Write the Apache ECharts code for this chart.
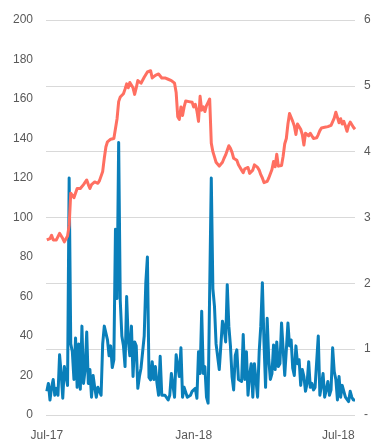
<!DOCTYPE html>
<html>
<head>
<meta charset="utf-8">
<script src="https://cdn.jsdelivr.net/npm/echarts@6/dist/echarts.min.js"></script>
<style>
  html, body { margin: 0; padding: 0; background: #ffffff; }
  #chart { width: 378px; height: 442px; }
</style>
</head>
<body>
<div id="chart"></div>
<script>
// Observation dates (every second day)
const dates = [
  '2017-07-01','2017-07-03','2017-07-05','2017-07-07','2017-07-09','2017-07-11','2017-07-13','2017-07-15','2017-07-17','2017-07-19','2017-07-21','2017-07-23','2017-07-25','2017-07-27','2017-07-29','2017-07-31',
  '2017-08-02','2017-08-04','2017-08-06','2017-08-08','2017-08-10','2017-08-12','2017-08-14','2017-08-16','2017-08-18','2017-08-20','2017-08-22','2017-08-24','2017-08-26','2017-08-28','2017-08-30',
  '2017-09-01','2017-09-03','2017-09-05','2017-09-07','2017-09-09','2017-09-11','2017-09-13','2017-09-15','2017-09-17','2017-09-19','2017-09-21','2017-09-23','2017-09-25','2017-09-27','2017-09-29',
  '2017-10-01','2017-10-03','2017-10-05','2017-10-07','2017-10-09','2017-10-11','2017-10-13','2017-10-15','2017-10-17','2017-10-19','2017-10-21','2017-10-23','2017-10-25','2017-10-27','2017-10-29','2017-10-31',
  '2017-11-02','2017-11-04','2017-11-06','2017-11-08','2017-11-10','2017-11-12','2017-11-14','2017-11-16','2017-11-18','2017-11-20','2017-11-22','2017-11-24','2017-11-26','2017-11-28','2017-11-30',
  '2017-12-02','2017-12-04','2017-12-06','2017-12-08','2017-12-10','2017-12-12','2017-12-14','2017-12-16','2017-12-18','2017-12-20','2017-12-22','2017-12-24','2017-12-26','2017-12-28','2017-12-30',
  '2018-01-01','2018-01-03','2018-01-05','2018-01-07','2018-01-09','2018-01-11','2018-01-13','2018-01-15','2018-01-17','2018-01-19','2018-01-21','2018-01-23','2018-01-25','2018-01-27','2018-01-29','2018-01-31',
  '2018-02-02','2018-02-04','2018-02-06','2018-02-08','2018-02-10','2018-02-12','2018-02-14','2018-02-16','2018-02-18','2018-02-20','2018-02-22','2018-02-24','2018-02-26','2018-02-28',
  '2018-03-02','2018-03-04','2018-03-06','2018-03-08','2018-03-10','2018-03-12','2018-03-14','2018-03-16','2018-03-18','2018-03-20','2018-03-22','2018-03-24','2018-03-26','2018-03-28','2018-03-30',
  '2018-04-01','2018-04-03','2018-04-05','2018-04-07','2018-04-09','2018-04-11','2018-04-13','2018-04-15','2018-04-17','2018-04-19','2018-04-21','2018-04-23','2018-04-25','2018-04-27','2018-04-29',
  '2018-05-01','2018-05-03','2018-05-05','2018-05-07','2018-05-09','2018-05-11','2018-05-13','2018-05-15','2018-05-17','2018-05-19','2018-05-21','2018-05-23','2018-05-25','2018-05-27','2018-05-29','2018-05-31',
  '2018-06-02','2018-06-04','2018-06-06','2018-06-08','2018-06-10','2018-06-12','2018-06-14','2018-06-16','2018-06-18','2018-06-20','2018-06-22','2018-06-24','2018-06-26','2018-06-28','2018-06-30',
  '2018-07-02','2018-07-04','2018-07-06','2018-07-08','2018-07-10','2018-07-12','2018-07-14','2018-07-16','2018-07-18','2018-07-20','2018-07-22'
];

// Blue series, left axis (0–200)
const volume = [
  12,16,7.6,14,18,10,13.5,10,30.5,21,8.5,24.5,24,15,120,36,
  32,18,39,14,36,13,45,16,23,42,16,23,9,20,14,
  9,14,13,10,36,45,45,38,30,35,24,28,94,59,138,
  58,40,35,24.5,60,38,30,45,19.5,37,35,13.5,19.5,23.7,24.5,40,
  67,80,19,17.8,27,18,24.5,16,10,29.7,10,9,10,9,7.6,
  10,21,21,9,30.5,30,19.5,34,9,14,13.5,9,9,10,12,
  12,13.5,8.5,32,21,52.5,21,24.5,9,6,5,120,64,55,36,35,
  23,23.7,47.5,44,37,66,45,35,19.5,12.7,30,33,18,18.6,
  17,40.7,18,32,10,20,26,9,26,25.4,9,32,45,67,37,
  14,49,28,18,21,35.5,23,37,24.5,26,46.6,47.5,20,33,46.6,
  35,38,23.7,20,35,26,28,15,23,19.5,12,16,27,14,16,12.7,
  14,13.5,40,10,15,21,9,12.7,17,10,12.7,34,22,18,7.6,
  19.5,9,15,12,9,10,6.8,12,9,7.6,7.6
];

// Red series, right axis (0–6)
const price = [
  2.66,2.63,2.68,2.73,2.66,2.68,2.66,2.63,2.76,2.73,2.68,2.63,2.66,2.72,2.88,3.37,
  3.38,3.30,3.30,3.44,3.42,3.44,3.47,3.50,3.52,3.57,3.50,3.44,3.50,3.52,3.54,
  3.57,3.52,3.56,3.59,3.70,3.90,4.07,4.15,4.17,4.19,4.20,4.20,4.18,4.50,4.76,
  4.83,4.85,4.88,4.95,5.03,4.97,5.05,5.08,4.97,4.87,4.97,5.08,5.11,5.04,5.06,5.13,
  5.16,5.21,5.24,5.23,5.12,5.12,5.16,5.18,5.18,5.15,5.12,5.11,5.12,5.10,5.10,
  5.13,5.08,5.09,5.04,4.90,4.53,4.49,4.68,4.55,4.68,4.77,4.78,4.76,4.73,4.75,
  4.68,4.72,4.62,4.46,4.84,4.63,4.68,4.61,4.70,4.75,4.80,4.13,4.00,3.92,3.84,3.81,
  3.78,3.76,3.84,3.90,3.95,4.02,4.09,4.05,3.99,3.90,3.90,3.87,3.80,3.77,
  3.72,3.68,3.74,3.72,3.76,3.67,3.69,3.72,3.80,3.79,3.76,3.72,3.65,3.60,3.53,
  3.56,3.55,3.60,3.62,3.73,3.85,3.77,3.96,3.78,3.75,3.79,3.93,4.12,4.20,4.42,
  4.58,4.55,4.46,4.39,4.26,4.42,4.44,4.34,4.26,4.10,4.28,4.28,4.24,4.28,4.26,4.20,
  4.21,4.21,4.26,4.32,4.36,4.38,4.37,4.39,4.38,4.41,4.40,4.39,4.51,4.60,4.52,
  4.44,4.50,4.42,4.46,4.39,4.31,4.40,4.45,4.42,4.37,4.34
];

// Date axis labels
const xTickDates = ['2017-07-01', '2018-01-01', '2018-07-01'];
const xTickLabels = ['Jul-17', 'Jan-18', 'Jul-18'];

const toTime = s => { const p = s.split('-'); return new Date(+p[0], +p[1] - 1, +p[2]).getTime(); };
const xTickTimes = xTickDates.map(toTime);

const labelColor = '#595959';
const labelFont = 'Liberation Sans';

const chart = echarts.init(document.getElementById('chart'), null, { renderer: 'canvas' });
chart.setOption({
  animation: false,
  backgroundColor: '#ffffff',
  grid: { left: 46, right: 23, top: 20, bottom: 27, containLabel: false },
  xAxis: {
    type: 'value',
    min: toTime('2017-06-30'),
    max: toTime('2018-07-22'),
    axisLine: { show: false },
    axisTick: { show: false },
    splitLine: { show: false },
    axisLabel: {
      customValues: xTickTimes,
      color: labelColor,
      fontFamily: labelFont,
      fontSize: 12,
      margin: 15,
      hideOverlap: false,
      showMinLabel: true,
      showMaxLabel: true,
      formatter: function (v) {
        let best = 0, bestD = Infinity;
        xTickTimes.forEach((t, i) => { const d = Math.abs(t - v); if (d < bestD) { bestD = d; best = i; } });
        return xTickLabels[best];
      }
    }
  },
  yAxis: [
    {
      type: 'value', position: 'left', min: 0, max: 200, interval: 20,
      axisLine: { show: false }, axisTick: { show: false }, splitLine: { show: false },
      axisLabel: { color: labelColor, fontFamily: labelFont, fontSize: 12, margin: 13 }
    },
    {
      type: 'value', position: 'right', min: 0, max: 6, interval: 1,
      axisLine: { show: false }, axisTick: { show: false },
      splitLine: { show: true, lineStyle: { color: '#d9d9d9', width: 1 } },
      axisLabel: {
        color: labelColor, fontFamily: labelFont, fontSize: 12, margin: 9,
        formatter: v => (v === 0 ? '-' : String(v))
      }
    }
  ],
  series: [
    {
      name: 'Volume', type: 'line', yAxisIndex: 0, showSymbol: false,
      data: dates.map((d, i) => [toTime(d), volume[i]]),
      lineStyle: { color: '#0A7FBA', width: 3, join: 'round' },
      itemStyle: { color: '#0A7FBA' }
    },
    {
      name: 'Price', type: 'line', yAxisIndex: 1, showSymbol: false,
      data: dates.map((d, i) => [toTime(d), price[i]]),
      lineStyle: { color: '#FF6F61', width: 3, join: 'round' },
      itemStyle: { color: '#FF6F61' }
    }
  ]
});
</script>
</body>
</html>
